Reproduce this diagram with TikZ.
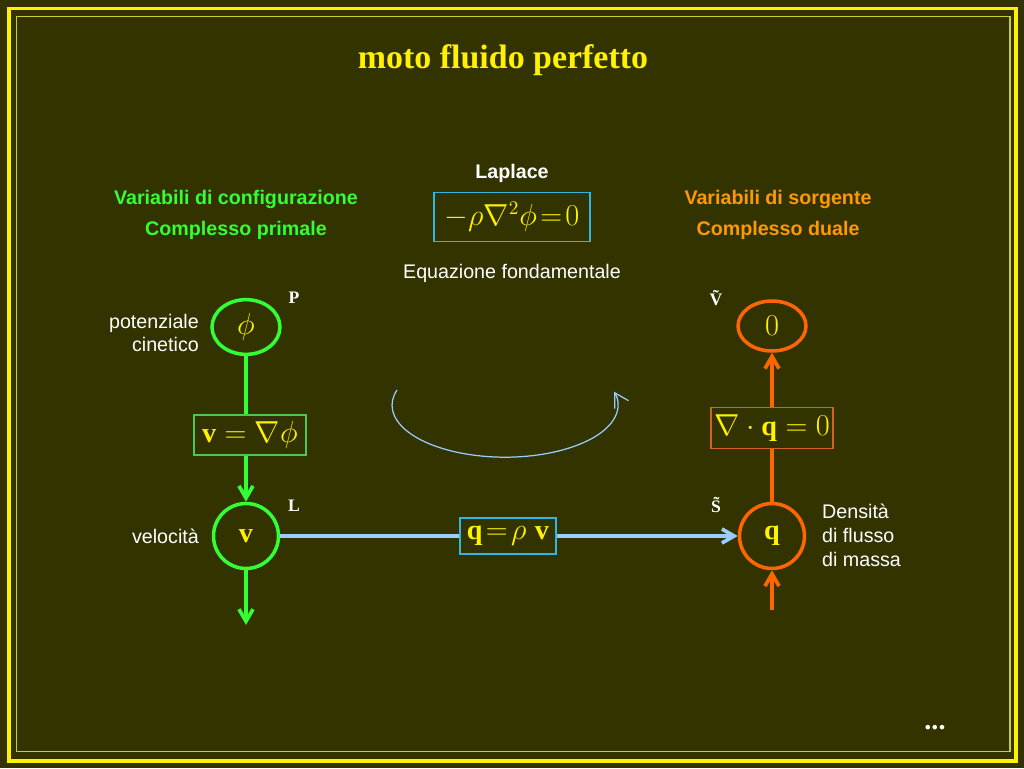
\documentclass[tikz,border=0pt]{standalone}
\usepackage{fontspec}
\setmainfont{Liberation Serif}
\setsansfont{Liberation Sans}
\usepackage{amsmath}
\usepackage{tikz}
\usetikzlibrary{shapes, backgrounds}
\usetikzlibrary{arrows, arrows.meta}
\usetikzlibrary{positioning}

\definecolor{bgolive}{RGB}{51,51,0}
\definecolor{frameline}{RGB}{204,204,51}
\definecolor{laplblue}{RGB}{51,181,229}
\definecolor{flowblue}{RGB}{153,204,255}
\definecolor{primalgreen}{RGB}{51,255,51}
\definecolor{boxgreen}{RGB}{76,200,76}
\definecolor{dualorange}{RGB}{255,102,0}
\definecolor{boxorange}{RGB}{210,100,30}
\definecolor{headorange}{RGB}{255,153,0}

\begin{document}
\begin{tikzpicture}[x=0.02cm, y=0.02cm, >={Straight Barb[angle=60:8pt]},
			formula/.style={draw, rectangle, line width=1pt, inner sep=2pt, text=yellow, font=\fontsize{16}{19}\selectfont},
			primal/.style={draw=primalgreen, line width=2pt, text=yellow, font=\fontsize{16}{19}\selectfont},
			dual/.style={draw=dualorange, line width=2pt, text=yellow, font=\fontsize{16}{19}\selectfont},
			whitetext/.style={text=white, font=\sffamily\fontsize{11.2}{13.6}\selectfont},
			header/.style={font=\sffamily\bfseries\fontsize{11.2}{13.6}\selectfont},
			cornertext/.style={text=white, font=\bfseries\fontsize{10}{12}\selectfont}]
			\fill[bgolive] (0,0) rectangle (1024,768);
			\draw[yellow, line width=1.8pt] (9,759.5) rectangle (1016,7);
			\draw[frameline, line width=0.9pt] (16.5,751.5) rectangle (1010,16.5);
			
			\node[text=yellow, font=\bfseries\fontsize{19.3}{23}\selectfont] (node0) at (503,708) {moto fluido perfetto};
			
			\node[header, text=white] (node1) at (512,595) {Laplace};
			\node[formula, draw=laplblue, minimum width=3.12cm, minimum height=0.98cm] (node2) at (512,551) {$-\rho\nabla^2\phi\mkern2mu{=}\mkern2mu0$};
			\node[whitetext] (node3) at (512,495) {Equazione fondamentale};
			
			\node[header, text=primalgreen] (node4) at (236,569) {Variabili di configurazione};
			\node[header, text=primalgreen] (node5) at (236,538) {Complesso primale};
			\node[header, text=headorange] (node6) at (778,569) {Variabili di sorgente};
			\node[header, text=headorange] (node7) at (778,538) {Complesso duale};
			
			% complesso primale
			\node[ellipse, primal, minimum width=1.36cm, minimum height=1cm] (node8) at (246,441) {$\phi$};
			\node[cornertext] (node9) at (294,470) {P};
			\node[whitetext, anchor=east, align=right] (node10) at (205,435) {potenziale\\cinetico};
			\node[formula, draw=boxgreen, minimum width=2.24cm, minimum height=0.8cm] (node11) at (250,333) {$\mathbf{v}=\nabla\phi$};
			\node[circle, primal, minimum size=1.3cm] (node12) at (246,232) {$\mathbf{v}$};
			\node[cornertext] (node13) at (294,262) {L};
			\node[whitetext, anchor=east] (node14) at (205,232) {velocità};
			\coordinate (node15) at (246,143);
			
			\draw[primalgreen, line width=2.1pt] (node8) -- (node8 |- node11.north);
			\draw[primalgreen, line width=2.1pt, ->] (node8 |- node11.south) -- (node12);
			\draw[primalgreen, line width=2.1pt, ->] (node12) -- (node15);
			
			% complesso duale
			\node[ellipse, dual, minimum width=1.36cm, minimum height=1cm] (node16) at (772,442) {$0$};
			\node[cornertext] (node17) at (716,470) {\~{V}};
			\node[formula, draw=boxorange, minimum width=2.44cm, minimum height=0.82cm] (node18) at (772,340) {$\nabla\cdot\mathbf{q}=0$};
			\node[circle, dual, minimum size=1.3cm] (node19) at (772,232) {$\mathbf{q}$};
			\node[cornertext] (node20) at (716,263) {\~{S}};
			\node[whitetext, anchor=west, align=left] (node21) at (816,233) {Densità\\di flusso\\di massa};
			\coordinate (node22) at (772,158);
			
			\draw[dualorange, line width=2.1pt, ->] (node18) -- (node16);
			\draw[dualorange, line width=2.1pt] (node19) -- (node18);
			\draw[dualorange, line width=2.1pt, ->] (node22) -- (node19);
			
			% legame costitutivo
			\node[formula, draw=laplblue, minimum width=1.92cm, minimum height=0.72cm, fill=bgolive, inner sep=1pt] (node23) at (508,232) {$\mathbf{q}\mkern2mu{=}\mkern2mu\rho\;\mathbf{v}$};
			\draw[flowblue, line width=2.1pt, ->] (node12) -- (node23) -- (node19);
			
			\draw[flowblue, line width=0.7pt, -{Straight Barb[angle=60:9pt]}] (397,378) arc[start angle=163, end angle=375, x radius=2.26cm, y radius=1.04cm];
			
			\node[text=white, font=\bfseries\fontsize{16}{19}\selectfont] (node24) at (935,40) {...};
			\end{tikzpicture}
\end{document}
